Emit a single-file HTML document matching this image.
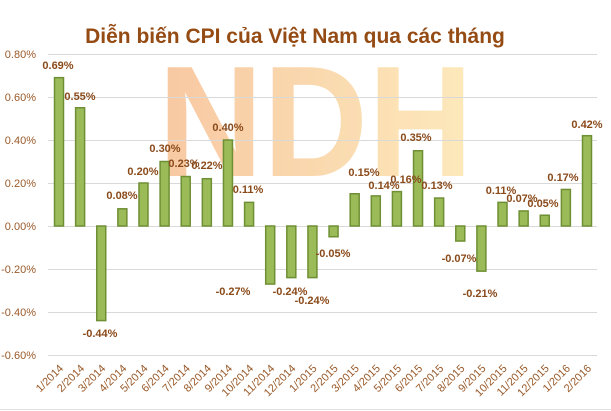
<!DOCTYPE html>
<html><head><meta charset="utf-8"><style>
body{margin:0;background:#fff;width:611px;height:411px;overflow:hidden}
svg{display:block}
text{font-family:"Liberation Sans",sans-serif}
</style></head><body>
<svg width="611" height="411" viewBox="0 0 611 411">
<defs><linearGradient id="wm" x1="0" y1="0" x2="1" y2="0"><stop offset="0" stop-color="#f7bf93"/><stop offset="1" stop-color="#fde6b0"/></linearGradient></defs>
<text x="158" y="176" font-size="158" font-weight="bold" fill="url(#wm)" opacity="0.85" textLength="315" lengthAdjust="spacingAndGlyphs">NDH</text>
<text x="295" y="43" text-anchor="middle" font-size="21" font-weight="bold" fill="#954b14">Diễn biến CPI của Việt Nam qua các tháng</text>
<g stroke="#d9d9d9" stroke-width="1">
<line x1="48" y1="54.5" x2="597" y2="54.5"/><line x1="48" y1="97.5" x2="597" y2="97.5"/><line x1="48" y1="140.5" x2="597" y2="140.5"/><line x1="48" y1="183.5" x2="597" y2="183.5"/><line x1="48" y1="226.5" x2="597" y2="226.5"/><line x1="48" y1="269.5" x2="597" y2="269.5"/><line x1="48" y1="312.5" x2="597" y2="312.5"/><line x1="48" y1="355.5" x2="597" y2="355.5"/>
<line x1="0" y1="409.5" x2="611" y2="409.5" stroke="#e0e0e0"/>
</g>
<g font-size="11" fill="#9a5a2a" text-anchor="end">
<text x="36" y="58">0.80%</text><text x="36" y="101">0.60%</text><text x="36" y="144">0.40%</text><text x="36" y="187">0.20%</text><text x="36" y="230">0.00%</text><text x="36" y="273">-0.20%</text><text x="36" y="316">-0.40%</text><text x="36" y="359">-0.60%</text>
</g>
<g id="bars" fill="#9bbb59" stroke="#6f8f34" stroke-width="1.5"></g>
<g id="lbl" font-size="11" font-weight="bold" fill="#8a4a1a" text-anchor="middle"></g>
<g id="xl" font-size="11" fill="#9a5a2a" text-anchor="end"></g>
</svg>
<script>
var v=[0.69,0.55,-0.44,0.08,0.20,0.30,0.23,0.22,0.40,0.11,-0.27,-0.24,-0.24,-0.05,0.15,0.14,0.16,0.35,0.13,-0.07,-0.21,0.11,0.07,0.05,0.17,0.42];
var m=["1/2014","2/2014","3/2014","4/2014","5/2014","6/2014","7/2014","8/2014","9/2014","10/2014","11/2014","12/2014","1/2015","2/2015","3/2015","4/2015","5/2015","6/2015","7/2015","8/2015","9/2015","10/2015","11/2015","12/2015","1/2016","2/2016"];
var L=[[58,69],[80,100],[100,337],[122,199],[143,175],[165,152],[184,167],[207,169],[228,131],[248,193],[233,295],[290,295],[312,304],[333,257],[364,176],[384,189],[406,183],[416,141],[437,189],[459,262],[480,297],[501,194],[522,202],[543,207],[563,181],[587,128]];
var ns="http://www.w3.org/2000/svg",B=document.getElementById("bars"),T=document.getElementById("lbl"),X=document.getElementById("xl");
for(var i=0;i<v.length;i++){var cx=59+i*21.12,h=v[i]/0.2*43;
var r=document.createElementNS(ns,"rect");r.setAttribute("x",cx-4.5);r.setAttribute("width",9);
r.setAttribute("y",h>0?226-h:226);r.setAttribute("height",Math.abs(h));B.appendChild(r);
var t=document.createElementNS(ns,"text");t.setAttribute("x",L[i][0]);t.setAttribute("y",L[i][1]);t.textContent=v[i].toFixed(2)+"%";T.appendChild(t);
var x=document.createElementNS(ns,"text");x.setAttribute("transform","translate("+(cx+5)+",369) rotate(-45)");x.textContent=m[i];X.appendChild(x);}
</script>
</body></html>
